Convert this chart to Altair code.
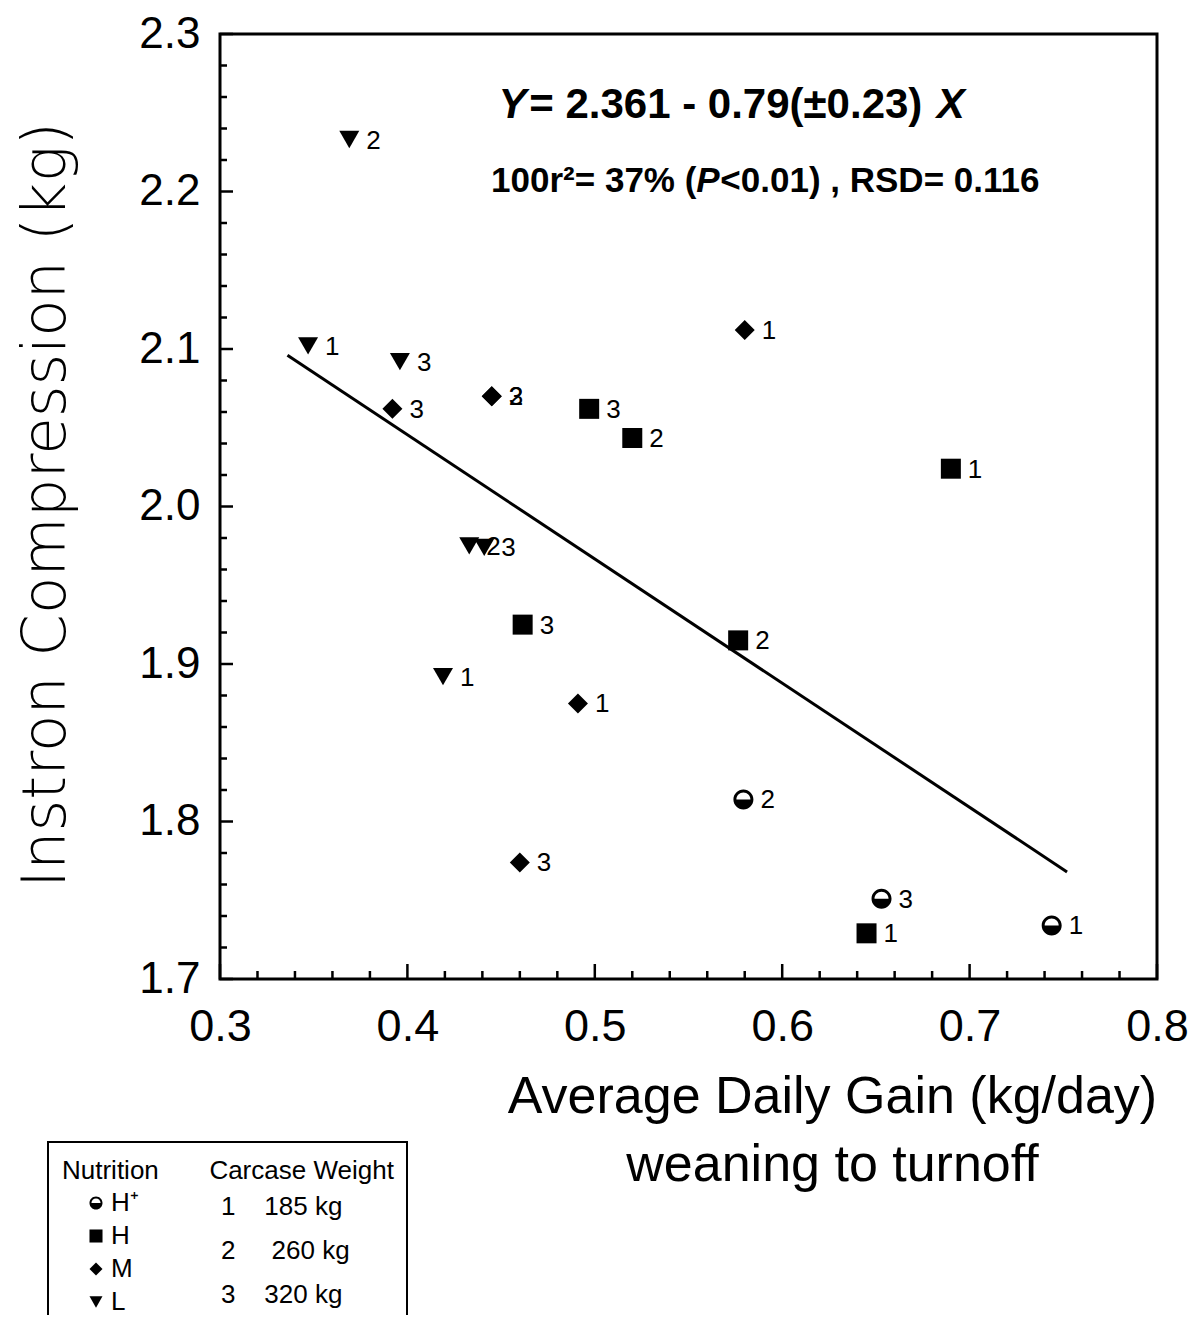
import altair as alt
import pandas as pd

# ---------------- data ----------------
nutrition = ["L", "L", "L", "L", "L", "L",
             "M", "M", "M", "M", "M", "M",
             "H", "H", "H", "H", "H", "H",
             "H⁺", "H⁺", "H⁺"]
weight = ["2", "1", "3", "2", "3", "1",
          "1", "3", "2", "3", "1", "3",
          "3", "2", "1", "3", "2", "1",
          "2", "3", "1"]
adg = [0.369, 0.347, 0.396, 0.433, 0.441, 0.419,
       0.580, 0.392, 0.445, 0.445, 0.491, 0.460,
       0.497, 0.520, 0.690, 0.4615, 0.5765, 0.645,
       0.5793, 0.653, 0.7438]
instron = [2.233, 2.102, 2.092, 1.975, 1.974, 1.892,
           2.112, 2.062, 2.070, 2.070, 1.875, 1.774,
           2.062, 2.0435, 2.024, 1.925, 1.915, 1.729,
           1.814, 1.751, 1.734]

fit_x = [0.336, 0.752]
fit_y = [2.096, 1.768]

nutrition_levels = ["H⁺", "H", "M", "L"]
weight_levels = ["1", "2", "3"]
weight_names = ["185 kg", "260 kg", "320 kg"]

x_major = [0.3, 0.4, 0.5, 0.6, 0.7, 0.8]
x_minor = [0.32, 0.34, 0.36, 0.38, 0.42, 0.44, 0.46, 0.48, 0.52, 0.54, 0.56, 0.58,
           0.62, 0.64, 0.66, 0.68, 0.72, 0.74, 0.76, 0.78]
y_major = [1.7, 1.8, 1.9, 2.0, 2.1, 2.2, 2.3]
y_minor = [1.72, 1.74, 1.76, 1.78, 1.82, 1.84, 1.86, 1.88, 1.92, 1.94, 1.96, 1.98,
           2.02, 2.04, 2.06, 2.08, 2.12, 2.14, 2.16, 2.18, 2.22, 2.24, 2.26, 2.28]

# ---------------- styling ----------------
W, H = 937, 945
SANS = "Liberation Sans"
HALF_CIRCLE = ("M-1,0A1,1 0 1,1 1,0A1,1 0 1,1 -1,0Z "
               "M-0.7,0A0.7,0.7 0 1,0 0.7,0A0.7,0.7 0 1,0 -0.7,0Z "
               "M-1,0L1,0A1,1 0 0,1 -1,0Z")
NBSP = "\u00a0"

points_df = pd.DataFrame({"nutrition": nutrition, "weight": weight,
                          "adg": adg, "instron": instron})
fit_df = pd.DataFrame({"adg": fit_x, "instron": fit_y})

x_scale = alt.Scale(domain=[0.3, 0.8], nice=False, zero=False)
y_scale = alt.Scale(domain=[1.7, 2.3], nice=False, zero=False)

x_axis = alt.Axis(values=x_major, format=".1f", labelFont=SANS, labelFontSize=45,
                  labelColor="black", labelPadding=25, labelFlush=False,
                  labelOverlap=False, ticks=False, domain=False, grid=False,
                  title=["Average Daily Gain (kg/day)", "weaning to turnoff"],
                  titleFont=SANS, titleFontSize=52, titleFontWeight="normal",
                  titleColor="black", titleX=612, titleY=133, titleAlign="center",
                  titleBaseline="alphabetic", titleLineHeight=68)
y_axis = alt.Axis(values=y_major, format=".1f", labelFont=SANS, labelFontSize=44,
                  labelColor="black", labelPadding=20, labelFlush=False,
                  labelOverlap=False, ticks=False, domain=False, grid=False,
                  title="Instron Compression (kg)", titleFont="DejaVu Sans",
                  titleFontSize=61, titleFontWeight=300, titleColor="black",
                  titleX=-174, titleY=H / 2 - 2, titleAngle=270, titleAlign="center",
                  titleBaseline="middle")


def X(field=None, datum=None):
    if datum is not None:
        return alt.X(datum=datum, type="quantitative", scale=x_scale, axis=x_axis)
    return alt.X(field, type="quantitative", scale=x_scale, axis=x_axis)


def Y(field=None, datum=None):
    if datum is not None:
        return alt.Y(datum=datum, type="quantitative", scale=y_scale, axis=y_axis)
    return alt.Y(field, type="quantitative", scale=y_scale, axis=y_axis)


base = alt.Chart(points_df)

points = base.mark_point(filled=True, opacity=1, color="black", size=400,
                         strokeWidth=0).encode(
    x=X("adg"),
    y=Y("instron"),
    shape=alt.Shape("nutrition:N",
                    scale=alt.Scale(domain=nutrition_levels,
                                    range=[HALF_CIRCLE, "square", "diamond", "triangle-down"]),
                    legend=alt.Legend(title="Nutrition" + NBSP * 7 + "Carcase Weight",
                                      orient="none",
                                      legendX=-158, legendY=1124, padding=0,
                                      titleFont=SANS, titleFontSize=26,
                                      titleFontWeight="normal", titleColor="black",
                                      titlePadding=6, titleLimit=500, labelFont=SANS,
                                      labelFontSize=26, labelColor="black",
                                      symbolSize=170, symbolFillColor="black",
                                      symbolStrokeWidth=0, symbolOffset=21,
                                      labelOffset=2, rowPadding=7)),
)

gaps = [4, 5, 4]
label_map = "{" + ",".join(
    f"'{k}':'{k}" + NBSP * g + f"{v}'" for k, v, g in zip(weight_levels, weight_names, gaps)
) + "}"

labels = base.mark_text(align="left", baseline="middle", dx=17, dy=1,
                        font=SANS, fontSize=26, color="black").encode(
    x=X("adg"),
    y=Y("instron"),
    text="weight:N",
    opacity=alt.Opacity("weight:O",
                        scale=alt.Scale(domain=weight_levels, range=[1, 1]),
                        legend=alt.Legend(title=None, orient="none",
                                          legendX=-25, legendY=1160, padding=0,
                                          labelLimit=400, labelFont=SANS,
                                          labelFontSize=26, labelColor="black",
                                          symbolSize=0, symbolOpacity=0,
                                          symbolFillColor="transparent",
                                          symbolStrokeColor="transparent",
                                          symbolStrokeWidth=0, labelOffset=0,
                                          rowPadding=18,
                                          labelExpr=label_map + "[datum.label]")),
)

fit = alt.Chart(fit_df).mark_line(color="black", strokeWidth=3).encode(
    x=X("adg"), y=Y("instron"))


def yticks(vals, length):
    return alt.Chart(pd.DataFrame({"v": vals})).mark_rule(color="black", strokeWidth=2.5).encode(
        y=Y("v"), x=alt.value(0), x2=alt.value(length))


def xticks(vals, length):
    return alt.Chart(pd.DataFrame({"v": vals})).mark_rule(color="black", strokeWidth=2.5).encode(
        x=X("v"), y=alt.value(H), y2=alt.value(H - length))


def note(txt, xv, yv, size, align, style="normal"):
    return alt.Chart(pd.DataFrame({"t": [txt]})).mark_text(
        align=align, baseline="alphabetic", font=SANS, fontSize=size,
        fontWeight="bold", fontStyle=style, color="black").encode(
        x=X(datum=xv), y=Y(datum=yv), text="t:N")


notes = [
    note("Y", 0.4635, 2.2467, 42, "right", "italic"),
    note("= 2.361 - 0.79(±0.23)", 0.4650, 2.2467, 42, "left"),
    note("X", 0.6825, 2.2467, 42, "left", "italic"),
    note("100r²= 37% (", 0.5542, 2.1997, 35, "right"),
    note("P", 0.5542, 2.1997, 35, "left", "italic"),
    note("<0.01) , RSD= 0.116", 0.5670, 2.1997, 35, "left"),
]

frame = alt.Chart(pd.DataFrame({"k": [0]})).mark_rect(
    fillOpacity=0, stroke="black", strokeWidth=2).encode(
    x=alt.value(-172), x2=alt.value(187), y=alt.value(1108), y2=alt.value(1420))

chart = alt.layer(
    points, labels, fit,
    yticks(y_major, 13), yticks(y_minor, 7),
    xticks(x_major, 15), xticks(x_minor, 8),
    *notes, frame,
).resolve_legend(shape="independent", opacity="independent").properties(
    width=W, height=H,
    autosize=alt.AutoSizeParams(type="none"),
    padding={"left": 212, "top": 26, "right": 35, "bottom": 336},
    background="white",
).configure_view(stroke="black", strokeWidth=3)

chart.save("out.html", embed_options={"renderer": "svg", "actions": False})
